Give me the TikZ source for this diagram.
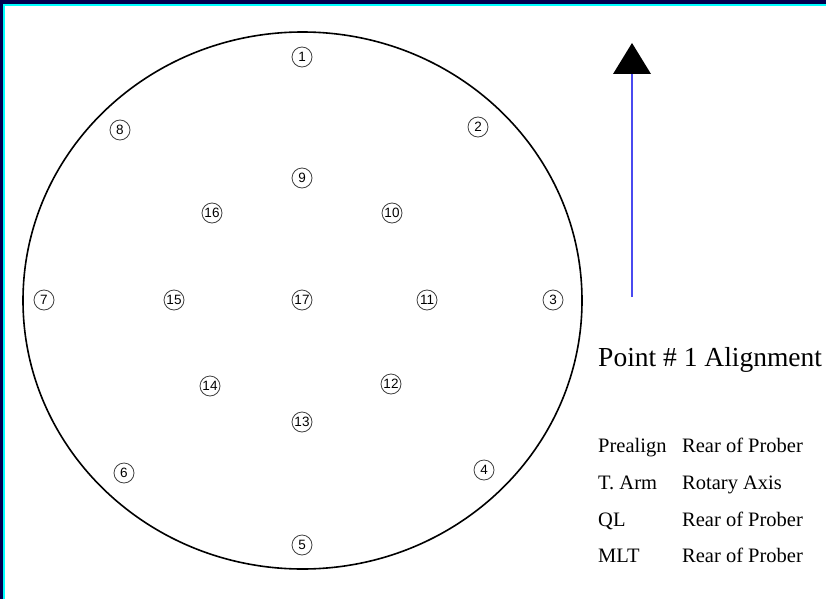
\documentclass[tikz,border=0pt]{standalone}
\usepackage{fontspec}
\setmainfont{Liberation Serif}
\newfontfamily\numfont{Liberation Sans}
\definecolor{navy}{HTML}{000050}
\definecolor{cyanb}{HTML}{00FFFF}
\definecolor{arrowblue}{HTML}{4A4AF0}
\begin{document}
\begin{tikzpicture}[x=1pt,y=-1pt,
  pt/.style={circle,draw=black!75,line width=0.8pt,minimum size=20pt,inner sep=0pt,font=\numfont\fontsize{13.5}{13.5}\selectfont},
  lbl/.style={anchor=base west,inner sep=0pt,font=\fontsize{20.5}{20.5}\selectfont}]
\useasboundingbox (0,0) rectangle (826,599);
\fill[white] (0,0) rectangle (826,599);
\fill[navy] (0,0) rectangle (826,4);
\fill[navy] (0,0) rectangle (3,599);
\fill[cyanb] (3,4) rectangle (826,6);
\fill[cyanb] (3,4) rectangle (5,599);
% wafer
\draw[line width=1.6pt] (302.5,300.5) ellipse [x radius=279.5, y radius=268.5];
% points
\node[pt] (p1) at (302,57) {1};
\node[pt] (p2) at (478,127) {2};
\node[pt] (p3) at (553,300) {3};
\node[pt] (p4) at (484,470) {4};
\node[pt] (p5) at (302,545) {5};
\node[pt] (p6) at (124,473) {6};
\node[pt] (p7) at (44,300) {7};
\node[pt] (p8) at (120,130) {8};
\node[pt] (p9) at (302,178) {9};
\node[pt] (p10) at (392,213) {10};
\node[pt] (p11) at (427,300) {11};
\node[pt] (p12) at (391,384) {12};
\node[pt] (p13) at (302,422) {13};
\node[pt] (p14) at (210,386) {14};
\node[pt] (p15) at (174,300) {15};
\node[pt] (p16) at (212,213) {16};
\node[pt] (p17) at (302,300) {17};
% arrow
\coordinate (abase) at (632,297);
\coordinate (atop) at (632,74);
\draw[arrowblue,line width=1.3pt] (abase) -- (atop);
\fill[black] (613,74) -- (632,43) -- (651,74) -- cycle;
% texts
\node[anchor=base west,inner sep=0pt,font=\fontsize{27.5}{27.5}\selectfont] (title) at (598,366) {Point \# 1 Alignment};
\node[lbl] (r1a) at (598,452) {Prealign};
\node[lbl] (r1b) at (682,452) {Rear of Prober};
\node[lbl] (r2a) at (598,489) {T. Arm};
\node[lbl] (r2b) at (682,489) {Rotary Axis};
\node[lbl] (r3a) at (598,526) {QL};
\node[lbl] (r3b) at (682,526) {Rear of Prober};
\node[lbl] (r4a) at (598,562) {MLT};
\node[lbl] (r4b) at (682,562) {Rear of Prober};
\end{tikzpicture}
\end{document}
